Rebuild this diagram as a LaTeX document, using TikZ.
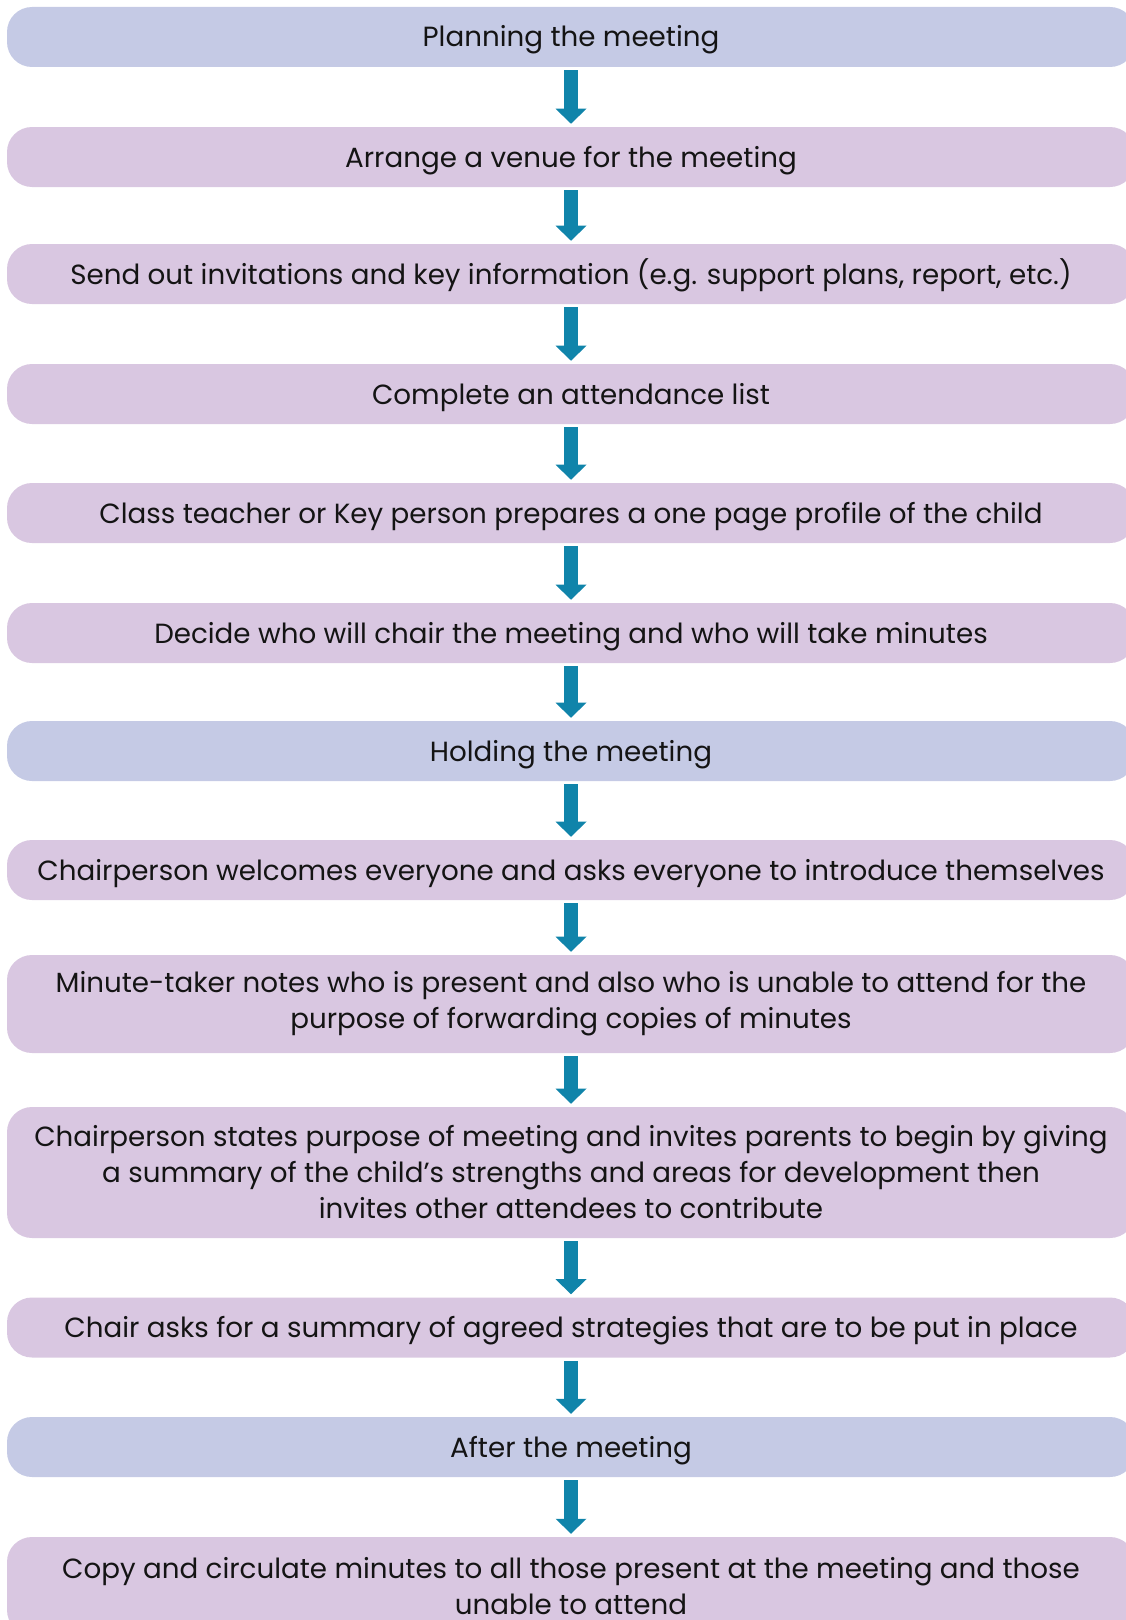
\documentclass[tikz,border=0pt]{standalone}
\usepackage{fontspec}
\setmainfont{Poppins}
\usetikzlibrary{arrows.meta}
\definecolor{bluebox}{RGB}{197,202,229}
\definecolor{purplebox}{RGB}{217,199,225}
\definecolor{arrowc}{RGB}{16,132,170}
\definecolor{textc}{RGB}{20,20,20}
\tikzset{
  stagebox/.style={rectangle, rounded corners=18.75pt, fill=#1, draw=none,
    minimum width=846pt, inner sep=0pt, align=center, text=textc,
    font=\fontsize{20.8}{27}\selectfont},
  onebox/.style={stagebox=#1, minimum height=45pt, text height=20pt, text depth=5pt},
  twobox/.style={stagebox=#1, minimum height=73.5pt},
  threebox/.style={stagebox=#1, minimum height=98.25pt},
  flowarrow/.style={draw=arrowc, line width=10.5pt,
    -{Triangle[width=23.25pt,length=11.25pt,line width=0pt]},
    shorten <=2.25pt, shorten >=2.25pt}
}
\begin{document}
\begin{tikzpicture}[x=0.75pt,y=-0.75pt]
\useasboundingbox (0,0) rectangle (1126,1620);
\clip (0,0) rectangle (1126,1620);
\node[onebox=bluebox] (n1) at (571,37) {Planning the meeting};
\node[onebox=purplebox] (n2) at (571,157) {Arrange a venue for the meeting};
\node[onebox=purplebox] (n3) at (571,274) {Send out invitations and key information (e.g. support plans, report, etc.)};
\node[onebox=purplebox] (n4) at (571,394) {Complete an attendance list};
\node[onebox=purplebox] (n5) at (571,513) {Class teacher or Key person prepares a one page profile of the child};
\node[onebox=purplebox] (n6) at (571,633) {Decide who will chair the meeting and who will take minutes};
\node[onebox=bluebox] (n7) at (571,751) {Holding the meeting};
\node[onebox=purplebox] (n8) at (571,870) {Chairperson welcomes everyone and asks everyone to introduce themselves};
\node[twobox=purplebox] (n9) at (571,1004) {Minute-taker notes who is present and also who is unable to attend for the\\purpose of forwarding copies of minutes};
\node[threebox=purplebox] (n10) at (571,1172.5) {Chairperson states purpose of meeting and invites parents to begin by giving\\a summary of the child’s strengths and areas for development then\\invites other attendees to contribute};
\node[onebox=purplebox] (n11) at (571,1327.5) {Chair asks for a summary of agreed strategies that are to be put in place};
\node[onebox=bluebox] (n12) at (571,1447) {After the meeting};
\node[twobox=purplebox] (n13) at (571,1586) {Copy and circulate minutes to all those present at the meeting and those\\unable to attend};
\foreach \a/\b in {n1/n2,n2/n3,n3/n4,n4/n5,n5/n6,n6/n7,n7/n8,n8/n9,n9/n10,n10/n11,n11/n12,n12/n13}
  \draw[flowarrow] (\a) -- (\b);
\end{tikzpicture}
\end{document}
